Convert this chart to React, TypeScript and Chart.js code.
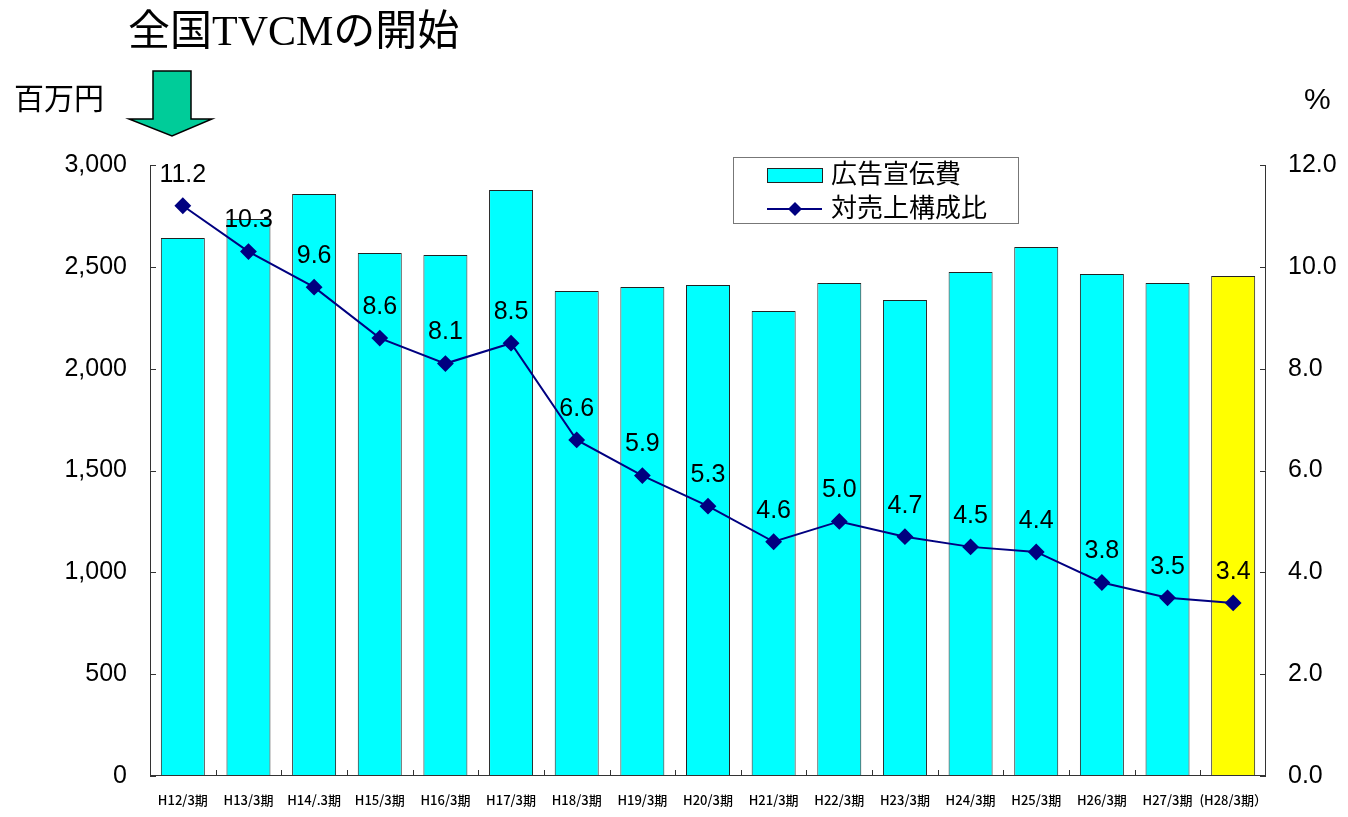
import React, { useEffect, useRef } from "react";
import { Chart, registerables } from "chart.js";

Chart.register(...registerables);

const categories = [
  "H12/3期", "H13/3期", "H14/.3期", "H15/3期", "H16/3期", "H17/3期", "H18/3期", "H19/3期",
  "H20/3期", "H21/3期", "H22/3期", "H23/3期", "H24/3期", "H25/3期", "H26/3期", "H27/3期", "(H28/3期）",
];
const adCost = [2641, 2735, 2857, 2568, 2558, 2877, 2381, 2401, 2411, 2283, 2421, 2337, 2475, 2597, 2465, 2421, 2455];
const ratio = [11.2, 10.3, 9.6, 8.6, 8.1, 8.5, 6.6, 5.9, 5.3, 4.6, 5.0, 4.7, 4.5, 4.4, 3.8, 3.5, 3.4];
const barColors = ["#00FFFF", "#00FFFF", "#00FFFF", "#00FFFF", "#00FFFF", "#00FFFF", "#00FFFF", "#00FFFF",
  "#00FFFF", "#00FFFF", "#00FFFF", "#00FFFF", "#00FFFF", "#00FFFF", "#00FFFF", "#00FFFF", "#FFFF00"];
const seriesNames = ["広告宣伝費", "対売上構成比"];
const titleText = "全国TVCMの開始";
const leftUnit = "百万円";
const rightUnit = "%";

const LAT = "'Liberation Sans', Arial, sans-serif";
const CJK = "'Liberation Sans', 'Noto Sans CJK JP', sans-serif";

const decorPlugin = {
  id: "decor",
  afterDatasetsDraw(chart: any) {
    const ctx = chart.ctx;
    const ca = chart.chartArea;
    const y2 = chart.scales.y2;
    const y = chart.scales.y;
    ctx.save();
    // axes lines
    ctx.strokeStyle = "#333";
    ctx.lineWidth = 1;
    ctx.beginPath();
    ctx.moveTo(Math.round(ca.left) + 0.5, ca.top);
    ctx.lineTo(Math.round(ca.left) + 0.5, ca.bottom);
    ctx.moveTo(Math.round(ca.right) - 0.5, ca.top);
    ctx.lineTo(Math.round(ca.right) - 0.5, ca.bottom);
    ctx.moveTo(ca.left, Math.round(ca.bottom) - 0.5);
    ctx.lineTo(ca.right, Math.round(ca.bottom) - 0.5);
    // ticks
    y.ticks.forEach((t: any) => {
      const py = Math.round(y.getPixelForValue(t.value)) + 0.5;
      ctx.moveTo(ca.left, py);
      ctx.lineTo(ca.left + 6, py);
    });
    y2.ticks.forEach((t: any) => {
      const py = Math.round(y2.getPixelForValue(t.value)) + 0.5;
      ctx.moveTo(ca.right, py);
      ctx.lineTo(ca.right - 6, py);
    });
    const w = (ca.right - ca.left) / categories.length;
    for (let i = 1; i < categories.length; i++) {
      const px = Math.round(ca.left + w * i) + 0.5;
      ctx.moveTo(px, ca.bottom);
      ctx.lineTo(px, ca.bottom - 6);
    }
    ctx.stroke();

    // data labels
    const meta = chart.getDatasetMeta(1);
    ctx.fillStyle = "#000";
    ctx.font = `25px ${LAT}`;
    ctx.textAlign = "center";
    ctx.textBaseline = "middle";
    meta.data.forEach((pt: any, i: number) => {
      ctx.fillText(ratio[i].toFixed(1), pt.x, pt.y - 31);
    });

    // legend
    ctx.fillStyle = "#fff";
    ctx.fillRect(733, 157, 285, 66);
    ctx.strokeStyle = "#777";
    ctx.lineWidth = 1;
    ctx.strokeRect(733.5, 157.5, 285, 66);
    ctx.fillStyle = "#00FFFF";
    ctx.fillRect(767, 168, 55, 14);
    ctx.strokeStyle = "#222";
    ctx.strokeRect(767.5, 168.5, 55, 14);
    ctx.strokeStyle = "#000080";
    ctx.lineWidth = 2;
    ctx.beginPath();
    ctx.moveTo(767, 209);
    ctx.lineTo(822, 209);
    ctx.stroke();
    ctx.fillStyle = "#000080";
    ctx.beginPath();
    ctx.moveTo(795, 202);
    ctx.lineTo(802, 209);
    ctx.lineTo(795, 216);
    ctx.lineTo(788, 209);
    ctx.closePath();
    ctx.fill();
    ctx.fillStyle = "#000";
    ctx.textAlign = "left";
    ctx.font = `26px ${CJK}`;
    ctx.fillText(seriesNames[0], 831, 176);
    ctx.fillText(seriesNames[1], 831, 210);

    // title, units
    ctx.font = `42px 'Liberation Serif', 'Noto Sans CJK JP', serif`;
    ctx.textBaseline = "alphabetic";
    ctx.fillText(titleText, 128, 45);
    ctx.font = `30px ${CJK}`;
    ctx.textBaseline = "middle";
    ctx.fillText(leftUnit, 14, 101);
    ctx.fillText(rightUnit, 1304, 101);

    // arrow
    ctx.fillStyle = "#00CC99";
    ctx.strokeStyle = "#000";
    ctx.lineWidth = 1.5;
    ctx.beginPath();
    ctx.moveTo(153, 71);
    ctx.lineTo(191, 71);
    ctx.lineTo(191, 119);
    ctx.lineTo(212, 119);
    ctx.lineTo(172, 136);
    ctx.lineTo(129, 119);
    ctx.lineTo(153, 119);
    ctx.closePath();
    ctx.fill();
    ctx.stroke();
    ctx.restore();
  },
};

export default function App() {
  const ref = useRef<HTMLCanvasElement>(null);
  useEffect(() => {
    document.body.style.margin = "0";
    const chart = new Chart(ref.current!, {
      type: "bar",
      data: {
        labels: categories,
        datasets: [
          {
            type: "bar",
            label: seriesNames[0],
            data: adCost,
            backgroundColor: barColors,
            borderColor: "#222",
            borderWidth: 1,
            barPercentage: 0.67,
            categoryPercentage: 1,
            yAxisID: "y",
            order: 2,
          },
          {
            type: "line",
            label: seriesNames[1],
            data: ratio,
            borderColor: "#000080",
            backgroundColor: "#000080",
            borderWidth: 2,
            pointStyle: "rectRot",
            pointRadius: 7,
            pointBackgroundColor: "#000080",
            pointBorderColor: "#000080",
            yAxisID: "y2",
            order: 1,
          } as any,
        ],
      },
      options: {
        animation: false,
        responsive: false,
        layout: { padding: { top: 165, left: 0, right: 0, bottom: 0 } },
        plugins: { legend: { display: false }, tooltip: { enabled: false } },
        scales: {
          x: {
            grid: { display: false, drawTicks: false },
            border: { display: false },
            ticks: {
              autoSkip: false,
              maxRotation: 0,
              minRotation: 0,
              padding: 16,
              color: "#000",
              font: { family: "'Noto Sans CJK JP', sans-serif", size: 13, weight: 500 as any },
            },
            afterFit: (s: any) => { s.height = 41; },
          },
          y: {
            position: "left",
            min: 0,
            max: 3000,
            grid: { display: false, drawTicks: false },
            border: { display: false },
            ticks: {
              stepSize: 500,
              padding: 23,
              color: "#000",
              font: { family: LAT, size: 25 },
              callback: (v: any) => Number(v).toLocaleString("en-US"),
            },
            afterFit: (s: any) => { s.width = 150; },
          },
          y2: {
            position: "right",
            min: 0,
            max: 12,
            grid: { display: false, drawTicks: false },
            border: { display: false },
            ticks: {
              stepSize: 2,
              padding: 22,
              color: "#000",
              font: { family: LAT, size: 25 },
              callback: (v: any) => Number(v).toFixed(1),
            },
            afterFit: (s: any) => { s.width = 82; },
          },
        },
      },
      plugins: [decorPlugin],
    });
    return () => chart.destroy();
  }, []);
  return (
    <div style={{ width: 1348, height: 817 }}>
      <canvas ref={ref} width={1348} height={817} style={{ display: "block" }} />
    </div>
  );
}
